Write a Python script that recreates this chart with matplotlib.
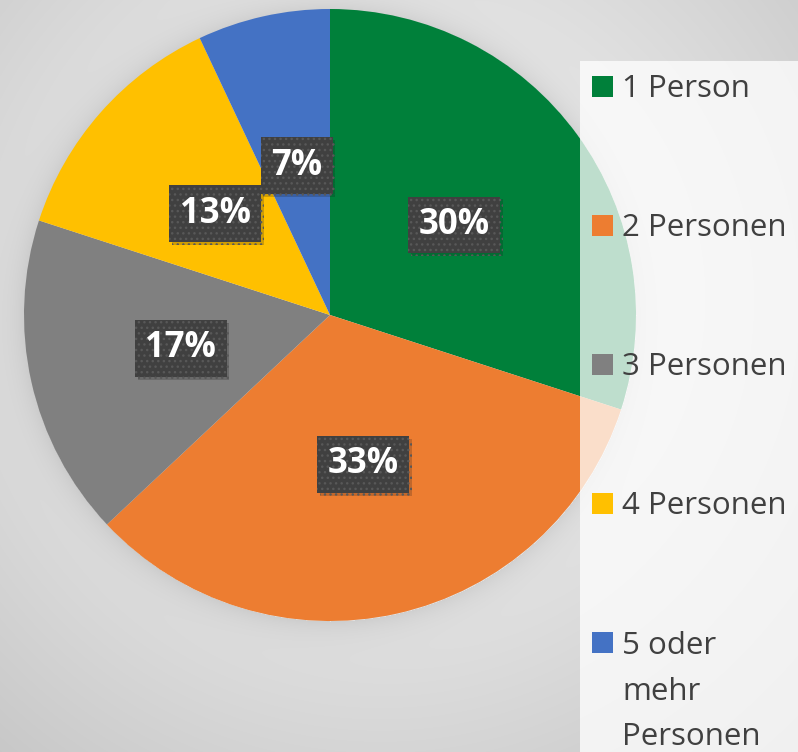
import numpy as np
import matplotlib
matplotlib.use("Agg")
import matplotlib.pyplot as plt
import matplotlib.patheffects as pe
from matplotlib.patches import Rectangle

categories = ["1 Person", "2 Personen", "3 Personen", "4 Personen", "5 oder\nmehr\nPersonen"]
values = [30, 33, 17, 13, 7]
colors = ["#00803A", "#ED7D31", "#808080", "#FFC000", "#4472C4"]

W, H = 798, 752
fig = plt.figure(figsize=(W / 100, H / 100), dpi=100)

# background gradient with soft pie shadow
bg = fig.add_axes([0, 0, 1, 1])
yy, xx = np.mgrid[0:H, 0:W]
d = np.hypot((xx - 380) / 700.0, (yy - 300) / 700.0)
base = 0.96 - 0.22 * d ** 1.3
rp = np.hypot(xx - 330, yy - 315)
shadow = np.where(rp > 306, 0.07 * np.exp(-(rp - 306) / 14.0), 0.0)
img = np.clip(base - shadow, 0, 1)
bg.imshow(np.dstack([img, img, img]), extent=[0, W, H, 0], aspect="auto", interpolation="bilinear")
bg.set_xlim(0, W)
bg.set_ylim(H, 0)
bg.axis("off")

R = 306
cx, cy = 330, 315
ax = fig.add_axes([(cx - R) / W, (H - cy - R) / H, 2 * R / W, 2 * R / H])
wedges, texts, autotexts = ax.pie(
    values, colors=colors, startangle=90, counterclock=False,
    autopct=lambda p: f"{p:.0f}%", pctdistance=0.5,
    wedgeprops=dict(linewidth=0),
    textprops=dict(color="white", fontsize=25, fontweight="bold", family="Open Sans"),
)
ax.set_xlim(-1, 1)
ax.set_ylim(-1, 1)
ax.set_aspect("equal")
ax.axis("off")

for t in autotexts:
    t.set_bbox(dict(boxstyle="square,pad=0.3", facecolor="#404040", edgecolor="#585858",
                    linewidth=0, hatch="..."))
    t.get_bbox_patch().set_path_effects([pe.SimplePatchShadow(offset=(2, -2), alpha=0.2), pe.Normal()])

# legend panel
ov = fig.add_axes([0, 0, 1, 1], facecolor="none")
ov.set_xlim(0, W)
ov.set_ylim(H, 0)
ov.axis("off")
ov.add_patch(Rectangle((580, 61), 230, 700, facecolor="white", alpha=0.75, linewidth=0))
y0 = 86
step = 139
line_gap = 46
for i, (lab, col) in enumerate(zip(categories, colors)):
    yc = y0 + i * step
    ov.add_patch(Rectangle((592, yc - 10.5), 21, 21, facecolor=col, linewidth=0))
    nlines = lab.count("\n")
    ov.text(622, yc + 11 + nlines * line_gap, lab, fontsize=22.5, color="#404040",
            family="Open Sans", va="baseline", ha="left", linespacing=1.67)

fig.savefig("out.png", dpi=100)
